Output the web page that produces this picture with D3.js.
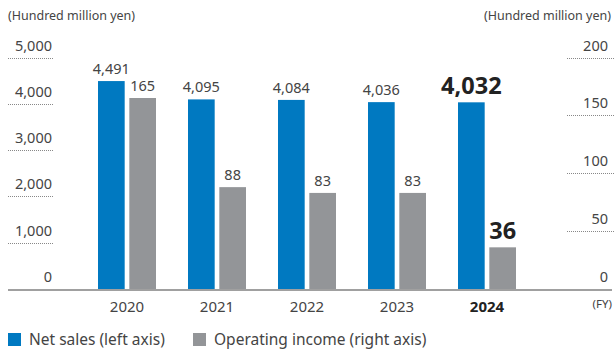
<!DOCTYPE html>
<html>
<head>
<meta charset="utf-8">
<script src="https://cdn.jsdelivr.net/npm/d3@7"></script>
<style>
    body { margin: 0; background: #fff; }
    svg { display: block; font-family: 'Noto Sans', sans-serif; }
</style>
</head>
<body>
<div id="chart"></div>
<script>
// chart data
var years = ['2020', '2021', '2022', '2023', '2024'];
var netSales = [4491, 4095, 4084, 4036, 4032];
var opIncome = [165, 88, 83, 83, 36];
var leftTicks = [0, 1000, 2000, 3000, 4000, 5000];
var rightTicks = [0, 50, 100, 150, 200];

var width = 614, height = 354;
var blue = '#0079c1', gray = '#939598', textColor = '#444';

var svg = d3.select('#chart').append('svg')
    .attr('width', width)
    .attr('height', height);

// scales
var yLeft = d3.scaleLinear().domain([0, 5000]).range([289, 57.5]);
var yRight = d3.scaleLinear().domain([0, 200]).range([289, 57.5]);
var x0 = d3.scaleBand().domain(years).range([82, 532]);
var x1 = d3.scaleBand().domain(['sales', 'income'])
    .range([16, 74]).paddingInner(0.148);

var fmt = d3.format(',');

// unit labels
svg.append('text').attr('x', 8).attr('y', 20)
    .attr('font-size', 12.5).attr('fill', textColor)
    .text('(Hundred million yen)');
svg.append('text').attr('x', 611).attr('y', 20)
    .attr('text-anchor', 'end')
    .attr('font-size', 12.5).attr('fill', textColor)
    .text('(Hundred million yen)');

// left axis: dotted ticks with labels
var leftAxis = svg.append('g');
leftAxis.selectAll('line').data(leftTicks.filter(function(d) { return d > 0; }))
    .enter().append('line')
    .attr('x1', 8).attr('x2', 53)
    .attr('y1', function(d) { return Math.round(yLeft(d)) + 0.5; })
    .attr('y2', function(d) { return Math.round(yLeft(d)) + 0.5; })
    .attr('stroke', '#888').attr('stroke-dasharray', '1,1');
leftAxis.selectAll('text').data(leftTicks)
    .enter().append('text')
    .attr('x', 52)
    .attr('y', function(d) { return yLeft(d) - 7; })
    .attr('text-anchor', 'end')
    .attr('font-size', 14.5).attr('fill', textColor)
    .text(function(d) { return fmt(d); });

// right axis
var rightAxis = svg.append('g');
rightAxis.selectAll('line').data(rightTicks.filter(function(d) { return d > 0; }))
    .enter().append('line')
    .attr('x1', 567).attr('x2', 614)
    .attr('y1', function(d) { return Math.round(yRight(d)) + 0.5; })
    .attr('y2', function(d) { return Math.round(yRight(d)) + 0.5; })
    .attr('stroke', '#888').attr('stroke-dasharray', '1,1');
rightAxis.selectAll('text').data(rightTicks)
    .enter().append('text')
    .attr('x', 608)
    .attr('y', function(d) { return yRight(d) - 7; })
    .attr('text-anchor', 'end')
    .attr('font-size', 14.5).attr('fill', textColor)
    .text(function(d) { return d; });

// bars
var groups = svg.selectAll('.group').data(years)
    .enter().append('g')
    .attr('transform', function(d) { return 'translate(' + x0(d) + ',0)'; });

groups.append('rect')
    .attr('x', x1('sales'))
    .attr('width', x1.bandwidth())
    .attr('y', function(d, i) { return yLeft(netSales[i]); })
    .attr('height', function(d, i) { return 289 - yLeft(netSales[i]); })
    .attr('fill', blue);

groups.append('rect')
    .attr('x', x1('income'))
    .attr('width', x1.bandwidth())
    .attr('y', function(d, i) { return yRight(opIncome[i]); })
    .attr('height', function(d, i) { return 289 - yRight(opIncome[i]); })
    .attr('fill', gray);

// value labels, last year in bold
var last = years.length - 1;
groups.append('text')
    .attr('x', x1('sales') + x1.bandwidth() / 2)
    .attr('y', function(d, i) { return yLeft(netSales[i]) - (i == last ? 8 : 7); })
    .attr('text-anchor', 'middle')
    .attr('font-size', function(d, i) { return i == last ? 23.5 : 14.5; })
    .attr('font-weight', function(d, i) { return i == last ? 'bold' : 'normal'; })
    .attr('fill', function(d, i) { return i == last ? '#222' : textColor; })
    .text(function(d, i) { return fmt(netSales[i]); });

groups.append('text')
    .attr('x', x1('income') + x1.bandwidth() / 2)
    .attr('y', function(d, i) { return yRight(opIncome[i]) - (i == last ? 8 : 7); })
    .attr('text-anchor', 'middle')
    .attr('font-size', function(d, i) { return i == last ? 23.5 : 14.5; })
    .attr('font-weight', function(d, i) { return i == last ? 'bold' : 'normal'; })
    .attr('fill', function(d, i) { return i == last ? '#222' : textColor; })
    .text(function(d, i) { return opIncome[i]; });

// baseline
svg.append('line')
    .attr('x1', 8).attr('x2', 612)
    .attr('y1', 290).attr('y2', 290)
    .attr('stroke', '#a0a0a0').attr('stroke-width', 2);

// year labels
groups.append('text')
    .attr('x', x0.bandwidth() / 2)
    .attr('y', 312)
    .attr('text-anchor', 'middle')
    .attr('font-size', 15)
    .attr('font-weight', function(d, i) { return i == last ? 'bold' : 'normal'; })
    .attr('fill', function(d, i) { return i == last ? '#222' : textColor; })
    .text(function(d) { return d; });

svg.append('text').attr('x', 612).attr('y', 308)
    .attr('text-anchor', 'end')
    .attr('font-size', 11.5).attr('fill', textColor)
    .text('(FY)');

// legend
var legend = [
    { label: 'Net sales (left axis)', color: blue, x: 8 },
    { label: 'Operating income (right axis)', color: gray, x: 193 }
];
var leg = svg.selectAll('.legend').data(legend)
    .enter().append('g')
    .attr('transform', function(d) { return 'translate(' + d.x + ',333)'; });
leg.append('rect')
    .attr('width', 13).attr('height', 13)
    .attr('fill', function(d) { return d.color; });
leg.append('text')
    .attr('x', 21).attr('y', 12)
    .attr('font-size', 15.5).attr('fill', textColor)
    .text(function(d) { return d.label; });
</script>
</body>
</html>
